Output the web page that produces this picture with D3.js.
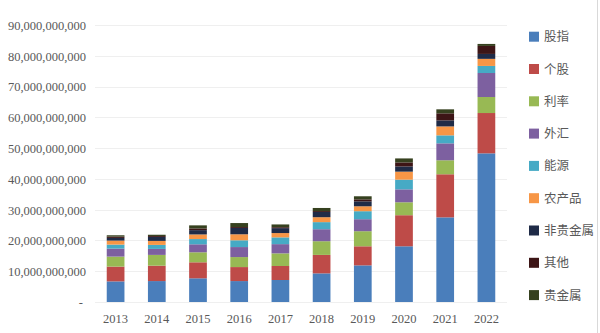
<!DOCTYPE html>
<html>
<head>
<meta charset="utf-8">
<script src="https://cdn.jsdelivr.net/npm/d3@7"></script>
<style>
  html, body { margin: 0; padding: 0; background: #ffffff; }
  svg { display: block; }
</style>
</head>
<body>
<svg id="chart" width="600" height="333"></svg>
<script>
const years = ["2013","2014","2015","2016","2017","2018","2019","2020","2021","2022"];
const seriesNames = ["股指","个股","利率","外汇","能源","农产品","非贵金属","其他","贵金属"];
// values in billions
const guzhi     = [6.7, 6.8, 7.7, 6.8, 7.15, 9.3, 11.9, 18.1, 27.5, 48.3];
const gegu      = [4.8, 5.0, 5.2, 4.55, 4.55, 6.0, 6.2, 10.1, 14.0, 13.1];
const lilv      = [3.25, 3.5, 3.25, 3.25, 4.1, 4.45, 4.9, 4.2, 4.55, 5.2];
const waihui    = [2.6, 1.95, 2.6, 3.25, 3.0, 3.9, 3.9, 4.2, 5.5, 7.8];
const nengyuan  = [1.3, 1.3, 1.7, 2.2, 2.2, 2.3, 2.6, 3.15, 2.6, 2.3];
const nongchan  = [1.3, 1.3, 1.5, 1.95, 1.4, 1.6, 1.6, 2.6, 2.9, 2.3];
const feigui    = [0.87, 1.3, 1.4, 2.05, 1.6, 1.7, 1.6, 1.7, 1.95, 1.6];
const qita      = [0.43, 0.3, 0.55, 0.3, 0.3, 0.3, 0.65, 1.3, 2.3, 2.6];
const guijinshu = [0.43, 0.4, 1.0, 1.3, 0.9, 1.0, 1.0, 1.3, 1.3, 0.65];
const yTicks = [0, 10e9, 20e9, 30e9, 40e9, 50e9, 60e9, 70e9, 80e9, 90e9];

const seriesValues = [guzhi, gegu, lilv, waihui, nengyuan, nongchan, feigui, qita, guijinshu];
const colors = ["#4a7ebb","#be4b48","#98b954","#7d60a0","#46aac5","#f79646","#1f2b47","#3d1516","#36411f"];

const rows = years.map((y, i) => {
  const r = { year: y };
  seriesNames.forEach((s, k) => { r[s] = seriesValues[k][i] * 1e9; });
  return r;
});

const svg = d3.select("#chart");
const x = d3.scaleBand().domain(years).range([95, 507]).paddingInner(0.57).paddingOuter(0.285);
const y = d3.scaleLinear().domain([0, 90e9]).range([302, 25]);

const fontSerif = "'Liberation Serif', 'DejaVu Serif', serif";
const textColor = "#595959";

// gridlines
svg.append("g").selectAll("line").data(yTicks).join("line")
  .attr("x1", 95).attr("x2", 507)
  .attr("y1", d => Math.round(y(d)) + 0.5).attr("y2", d => Math.round(y(d)) + 0.5)
  .attr("stroke", "#efefef").attr("stroke-width", 1);

// y axis
const yAxis = d3.axisLeft(y).tickValues(yTicks).tickSize(0).tickPadding(0)
  .tickFormat(d => d === 0 ? "-" : d3.format(",")(d));
const gy = svg.append("g").attr("transform", "translate(86,0)").call(yAxis);
gy.select(".domain").remove();
gy.selectAll("text").attr("font-family", fontSerif).attr("font-size", "12.5px")
  .attr("fill", textColor).attr("dy", "0.35em")
  .attr("dx", d => d === 0 ? -3 : 0);

// stacked bars
const stack = d3.stack().keys(seriesNames);
const stacked = stack(rows);
svg.append("g").selectAll("g").data(stacked).join("g")
  .attr("fill", (d, i) => colors[i])
  .selectAll("rect").data(d => d).join("rect")
  .attr("x", d => x(d.data.year))
  .attr("width", x.bandwidth())
  .attr("y", d => y(d[1]))
  .attr("height", d => y(d[0]) - y(d[1]));

// x axis
const xAxis = d3.axisBottom(x).tickSize(0).tickPadding(0);
const gx = svg.append("g").attr("transform", "translate(0,314)").call(xAxis);
gx.select(".domain").remove();
gx.selectAll("text").attr("font-family", fontSerif).attr("font-size", "12.5px")
  .attr("fill", textColor).attr("dy", "0.71em");

// legend
const legend = svg.append("g").selectAll("g").data(seriesNames).join("g")
  .attr("transform", (d, i) => `translate(529, ${36.7 + i * 32.3})`);
legend.append("rect").attr("x", 0).attr("y", -5).attr("width", 10).attr("height", 10)
  .attr("fill", (d, i) => colors[i]);
legend.append("text").attr("x", 15).attr("y", 0).attr("dy", "0.36em")
  .attr("font-family", "'Noto Sans CJK SC', sans-serif").attr("font-size", "12.5px")
  .attr("fill", textColor).text(d => d);

// right border
svg.append("line").attr("x1", 597.5).attr("x2", 597.5).attr("y1", 0).attr("y2", 333)
  .attr("stroke", "#d9d9d9").attr("stroke-width", 1);
</script>
</body>
</html>
